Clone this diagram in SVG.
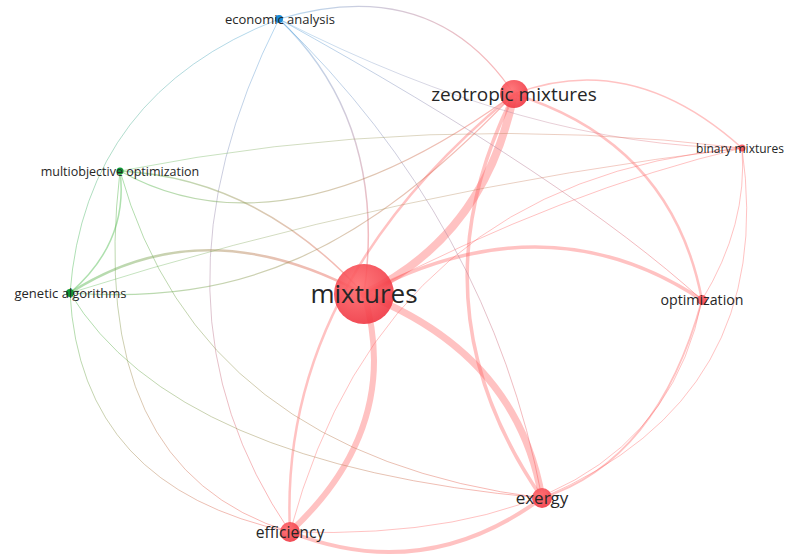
<svg xmlns="http://www.w3.org/2000/svg" width="785" height="555" viewBox="0 0 785 555">
<style>
.e{fill:none;stroke-linecap:round}
.r{stroke:#ff5a5a;stroke-opacity:.37}
.x{stroke-opacity:.45}
.lbl{font-family:"Open Sans","Liberation Sans",sans-serif;fill:#262626;text-anchor:middle}
.rn{fill:url(#redNode);fill-opacity:.9}
</style>
<defs>
<radialGradient id="redNode" cx="40%" cy="35%" r="70%">
<stop offset="0" stop-color="#ff6b6e"/>
<stop offset="1" stop-color="#ef3440"/>
</radialGradient>
<linearGradient id="gEM" gradientUnits="userSpaceOnUse" x1="279" y1="19" x2="364" y2="294"><stop offset="0" stop-color="#5aa8e0"/><stop offset="1" stop-color="#ff5a5a"/></linearGradient>
<linearGradient id="gEZ" gradientUnits="userSpaceOnUse" x1="279" y1="19" x2="514" y2="94"><stop offset="0" stop-color="#5aa8e0"/><stop offset="1" stop-color="#ff5a5a"/></linearGradient>
<linearGradient id="gEG" gradientUnits="userSpaceOnUse" x1="279" y1="19" x2="70" y2="293"><stop offset="0" stop-color="#5aa8e0"/><stop offset="1" stop-color="#4cbb4c"/></linearGradient>
<linearGradient id="gEF" gradientUnits="userSpaceOnUse" x1="279" y1="19" x2="290" y2="532"><stop offset="0" stop-color="#5aa8e0"/><stop offset="1" stop-color="#ff5a5a"/></linearGradient>
<linearGradient id="gEX" gradientUnits="userSpaceOnUse" x1="279" y1="19" x2="542" y2="498"><stop offset="0" stop-color="#5aa8e0"/><stop offset="1" stop-color="#ff5a5a"/></linearGradient>
<linearGradient id="gEO" gradientUnits="userSpaceOnUse" x1="279" y1="19" x2="702" y2="300"><stop offset="0" stop-color="#5aa8e0"/><stop offset="1" stop-color="#ff5a5a"/></linearGradient>
<linearGradient id="gEB" gradientUnits="userSpaceOnUse" x1="279" y1="19" x2="742" y2="148"><stop offset="0" stop-color="#5aa8e0"/><stop offset="1" stop-color="#ff5a5a"/></linearGradient>
<linearGradient id="gGM" gradientUnits="userSpaceOnUse" x1="70" y1="293" x2="364" y2="294"><stop offset="0" stop-color="#4cbb4c"/><stop offset="1" stop-color="#ff5a5a"/></linearGradient>
<linearGradient id="gOM" gradientUnits="userSpaceOnUse" x1="120" y1="171" x2="364" y2="294"><stop offset="0" stop-color="#4cbb4c"/><stop offset="1" stop-color="#ff5a5a"/></linearGradient>
<linearGradient id="gOZ" gradientUnits="userSpaceOnUse" x1="120" y1="171" x2="514" y2="94"><stop offset="0" stop-color="#4cbb4c"/><stop offset="1" stop-color="#ff5a5a"/></linearGradient>
<linearGradient id="gOB" gradientUnits="userSpaceOnUse" x1="120" y1="171" x2="742" y2="148"><stop offset="0" stop-color="#4cbb4c"/><stop offset="1" stop-color="#ff5a5a"/></linearGradient>
<linearGradient id="gOF" gradientUnits="userSpaceOnUse" x1="120" y1="171" x2="290" y2="532"><stop offset="0" stop-color="#4cbb4c"/><stop offset="1" stop-color="#ff5a5a"/></linearGradient>
<linearGradient id="gOX" gradientUnits="userSpaceOnUse" x1="120" y1="171" x2="542" y2="498"><stop offset="0" stop-color="#4cbb4c"/><stop offset="1" stop-color="#ff5a5a"/></linearGradient>
<linearGradient id="gGX" gradientUnits="userSpaceOnUse" x1="70" y1="293" x2="542" y2="498"><stop offset="0" stop-color="#4cbb4c"/><stop offset="1" stop-color="#ff5a5a"/></linearGradient>
<linearGradient id="gGF" gradientUnits="userSpaceOnUse" x1="70" y1="293" x2="290" y2="532"><stop offset="0" stop-color="#4cbb4c"/><stop offset="1" stop-color="#ff5a5a"/></linearGradient>
<linearGradient id="gGZ" gradientUnits="userSpaceOnUse" x1="70" y1="293" x2="514" y2="94"><stop offset="0" stop-color="#4cbb4c"/><stop offset="1" stop-color="#ff5a5a"/></linearGradient>
<linearGradient id="gGB" gradientUnits="userSpaceOnUse" x1="70" y1="293" x2="742" y2="148"><stop offset="0" stop-color="#4cbb4c"/><stop offset="1" stop-color="#ff5a5a"/></linearGradient>
</defs>
<rect width="785" height="555" fill="#ffffff"/>
<g id="connectors">
<path class="e r" stroke-width="8" d="M514,94 Q485,236 364,294"/>
<path class="e r" stroke-width="3.5" d="M514,94 Q408,304 542,498"/>
<path class="e r" stroke-width="3.5" d="M364,294 Q547,197 702,300"/>
<path class="e r" stroke-width="7" d="M364,294 Q517,354 542,498"/>
<path class="e r" stroke-width="6" d="M364,294 Q403,427 290,532"/>
<path class="e r" stroke-width="2.5" d="M514,94 Q278,287 290,532"/>
<path class="e r" stroke-width="1.5" d="M514,94 Q632,49 742,148"/>
<path class="e r" stroke-width="2.5" d="M514,94 Q672,143 702,300"/>
<path class="e r" stroke-width="1" d="M742,148 Q567,189 364,294"/>
<path class="e r" stroke-width="1" d="M290,532 Q384,180 742,148"/>
<path class="e r" stroke-width="4" d="M290,532 Q424,585 542,498"/>
<path class="e r" stroke-width="1" d="M290,532 Q654,544 702,300"/>
<path class="e r" stroke-width="1.8" d="M702,300 Q658,461 542,498"/>
<path class="e r" stroke-width="1" d="M742,148 Q778,397 542,498"/>
<path class="e r" stroke-width="1" d="M742,148 Q748,225 702,300"/>
<path class="e x" stroke="url(#gEM)" stroke-width="1.5" d="M279,19 Q388,123 364,294"/>
<path class="e x" stroke="url(#gEZ)" stroke-width="1.2" d="M279,19 Q433,-27 514,94"/>
<path class="e x" stroke="url(#gEG)" stroke-width="1" d="M279,19 Q85,94 70,293"/>
<path class="e x" stroke="url(#gEF)" stroke-width="1" d="M279,19 Q135,304 290,532"/>
<path class="e x" stroke="url(#gEX)" stroke-width="1" d="M279,19 Q490,222 542,498"/>
<path class="e x" stroke="url(#gEO)" stroke-width="1" d="M279,19 Q570,180 702,300"/>
<path class="e x" stroke="url(#gEB)" stroke-width="0.8" d="M279,19 Q530,147 742,148"/>
<path class="e x" stroke="url(#gGM)" stroke-width="2.5" d="M70,293 Q203,207 364,294"/>
<path class="e x" stroke="url(#gOM)" stroke-width="1.5" d="M120,171 Q258,178 364,294"/>
<path class="e x" stroke="url(#gOZ)" stroke-width="1.2" d="M120,171 Q283,262 514,94"/>
<path class="e x" stroke="url(#gOB)" stroke-width="0.8" stroke-opacity=".3" d="M120,171 Q429,110 742,148"/>
<path class="e x" stroke="#4cbb4c" stroke-width="1.5" d="M120,171 Q129,242 70,293"/>
<path class="e x" stroke="url(#gOF)" stroke-width="1" d="M120,171 Q85,469 290,532"/>
<path class="e x" stroke="url(#gOX)" stroke-width="1" d="M120,171 Q199,455 542,498"/>
<path class="e x" stroke="url(#gGX)" stroke-width="1" d="M70,293 Q174,465 542,498"/>
<path class="e x" stroke="url(#gGF)" stroke-width="1" d="M70,293 Q80,488 290,532"/>
<path class="e x" stroke="url(#gGZ)" stroke-width="1.2" d="M70,293 C240,305 360,255 514,94"/>
<path class="e x" stroke="url(#gGB)" stroke-width="0.8" stroke-opacity=".3" d="M70,293 Q394,190 742,148"/>
</g>
<g id="node-mixtures"><circle class="rn" cx="364" cy="294" r="30"/><text class="lbl" x="364" y="303" font-size="26">mixtures</text></g>
<g id="node-zeotropic-mixtures"><circle class="rn" cx="514" cy="94" r="14"/><text class="lbl" x="514" y="101" font-size="19">zeotropic mixtures</text></g>
<g id="node-exergy"><circle class="rn" cx="542" cy="498" r="10"/><text class="lbl" x="542" y="504" font-size="17">exergy</text></g>
<g id="node-efficiency"><circle class="rn" cx="290" cy="532" r="10"/><text class="lbl" x="290" y="538" font-size="15.7">efficiency</text></g>
<g id="node-optimization"><circle class="rn" cx="702" cy="300" r="5"/><text class="lbl" x="702" y="305" font-size="14.2">optimization</text></g>
<g id="node-binary-mixtures"><circle class="rn" cx="742" cy="148" r="3.5"/><text class="lbl" x="740" y="152.5" font-size="12">binary mixtures</text></g>
<g id="node-economic-analysis"><circle cx="279" cy="19" r="4" fill="#1a8ad4"/><text class="lbl" x="280" y="23.5" font-size="13">economic analysis</text></g>
<g id="node-multiobjective-optimization"><circle cx="120" cy="171" r="3.5" fill="#0e9a35"/><text class="lbl" x="120" y="175.5" font-size="12.5">multiobjective optimization</text></g>
<g id="node-genetic-algorithms"><circle cx="70" cy="293" r="4" fill="#0e9a35"/><text class="lbl" x="70.5" y="297.5" font-size="13">genetic algorithms</text></g>
</svg>
